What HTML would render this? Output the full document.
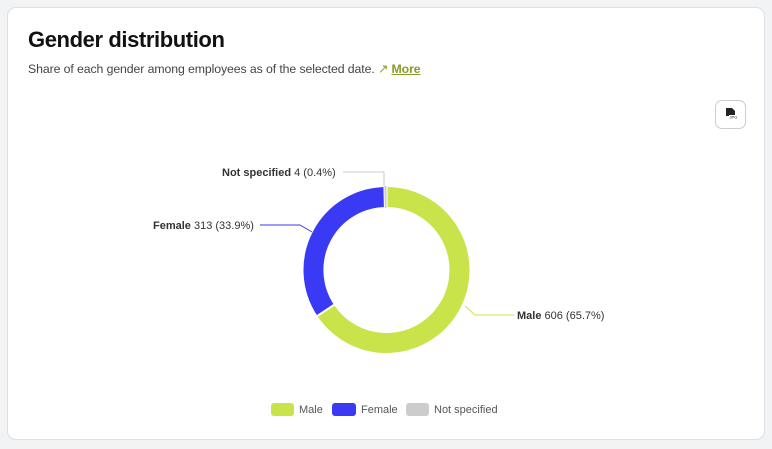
<!DOCTYPE html>
<html><head><meta charset="utf-8"><style>
body{margin:0;width:772px;height:449px;background:#f2f3f5;font-family:"Liberation Sans",sans-serif;overflow:hidden;position:relative}
.card{position:absolute;left:7px;top:7px;width:758px;height:433px;background:#fff;border:1px solid #dcdfe3;border-radius:9px;box-sizing:border-box}
h1{position:absolute;left:28px;top:27px;margin:0;font-size:22px;font-weight:bold;color:#111;letter-spacing:-0.4px}
.sub{position:absolute;left:28px;top:62px;font-size:12.3px;color:#444;letter-spacing:-0.1px}
.sub a{color:#8a9a2a;font-weight:bold;text-decoration:underline}
.btn{position:absolute;left:715px;top:100px;width:29px;height:27px;border:1px solid #ccc;border-radius:7px;background:#fff}
</style></head><body>
<div class="card"></div>
<h1>Gender distribution</h1>
<div class="sub">Share of each gender among employees as of the selected date. <span style="color:#8a9a2a">&#x2197;&#xFE0E;</span> <a>More</a></div>
<div class="btn"><svg width="29" height="27"><path d="M10 7h6l3 3v5h-9z" fill="#222"/><rect x="13" y="14" width="9" height="4" fill="#fff"/><text x="13.5" y="17.5" font-size="4" fill="#222" font-family="Liberation Sans">JPG</text></svg></div>
<svg width="772" height="449" style="position:absolute;left:0;top:0">
<g transform="translate(386.5,270)">
<path d="M0,-84 A84,84 0 1 1 -70.0,46.4 L-51.7,34.3 A62,62 0 1 0 0,-62Z" fill="#c8e44a" stroke="#fff" stroke-width="2"/>
<path d="M-70.0,46.4 A84,84 0 0 1 -2.1,-84 L-1.6,-62 A62,62 0 0 0 -51.7,34.3Z" fill="#3a3af5" stroke="#fff" stroke-width="2"/>
<path d="M-2.1,-84 A84,84 0 0 1 0,-84 L0,-62 A62,62 0 0 0 -1.6,-62Z" fill="#ccc"/>
</g>
<polyline points="343,172 384,172 384,186" fill="none" stroke="#ccc"/>
<polyline points="260,225 300,225 312,232" fill="none" stroke="#3a3af5"/>
<polyline points="465,306 475,315 514,315" fill="none" stroke="#c8e44a"/>
<g font-size="11" fill="#333" font-family="Liberation Sans">
<text x="222" y="176"><tspan font-weight="bold">Not specified</tspan> 4 (0.4%)</text>
<text x="153" y="229"><tspan font-weight="bold">Female</tspan> 313 (33.9%)</text>
<text x="517" y="319"><tspan font-weight="bold">Male</tspan> 606 (65.7%)</text>
<rect x="271" y="403" width="23" height="13" rx="3" fill="#c8e44a"/>
<text x="299" y="413" fill="#555">Male</text>
<rect x="332" y="403" width="24" height="13" rx="3" fill="#3a3af5"/>
<text x="361" y="413" fill="#555">Female</text>
<rect x="406" y="403" width="23" height="13" rx="3" fill="#ccc"/>
<text x="434" y="413" fill="#555">Not specified</text>
</g>
</svg>
</body></html>
